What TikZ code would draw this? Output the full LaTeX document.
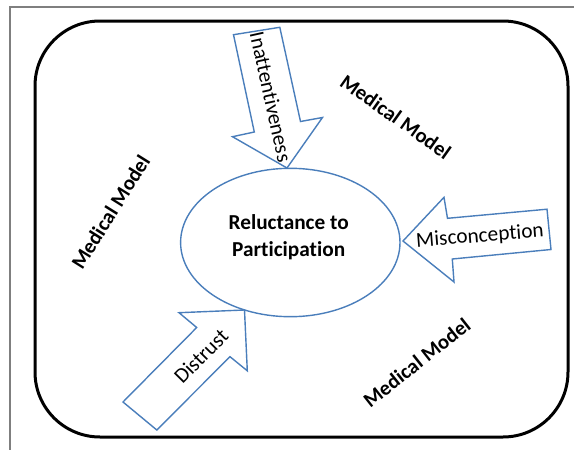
\documentclass[tikz,border=0pt]{standalone}
\usepackage{fontspec}
\setmainfont{Carlito}[Ligatures=NoCommon, RawFeature={-liga}]
\definecolor{arrowblue}{HTML}{4A7EBB}
\definecolor{framegray}{HTML}{7F7F7F}
\tikzset{
  blockarrow/.style={draw=arrowblue, line width=1.4pt, line join=miter, fill=white},
  arrowtext/.style={font=\fontsize{21.3}{25}\selectfont, inner sep=0pt},
  modeltext/.style={font=\fontsize{20.8}{25}\selectfont\bfseries, inner sep=0pt},
  centerellipse/.style={draw=arrowblue, line width=1.4pt, ellipse, minimum width=219.4pt, minimum height=148.4pt, inner sep=0pt},
}
\usetikzlibrary{shapes.geometric}
\begin{document}
\begin{tikzpicture}[x=1pt, y=-1pt]
\useasboundingbox (0,0) rectangle (574,450);
% outer thin frame (top and left)
\draw[framegray, line width=1.5pt] (574,7) -- (10,7) -- (10,450);
% rounded black frame
\draw[black, line width=3pt, rounded corners=65pt] (35,21) rectangle (568,437);

% central ellipse
\node[centerellipse] (core) at (290.3,242.5) {};
\node[font=\fontsize{21.3}{27}\selectfont\bfseries, align=center, inner sep=0pt] (coretext) at (288.7,237.5) {Reluctance to\\Participation};

% Inattentiveness arrow
\draw[blockarrow] (233.5,34.7) -- (279.8,27.3) -- (300.5,121.5) -- (322.5,117.5)
  -- (287,168) -- (232.5,136.7) -- (254.3,132) -- cycle;
\node[arrowtext, rotate=-77.6] (inatt) at (271,97) {Inattentiveness};

% Misconception arrow
\draw[blockarrow] (403,241) -- (444,197.3) -- (447.5,218.3) -- (547,209.2)
  -- (551,249.5) -- (452.3,259) -- (454,282) -- cycle;
\node[arrowtext, rotate=4.5] (miscon) at (480,236.5) {Misconception};

% Distrust arrow
\draw[blockarrow] (244.5,310) -- (179,312.7) -- (196.7,327.5) -- (123,402)
  -- (156.8,430) -- (230,356.7) -- (247.3,370.8) -- cycle;
\node[arrowtext, rotate=45.4] (distrust) at (201,356) {Distrust};

% Medical Model labels
\node[modeltext, rotate=-35.3] (mmtop) at (395.8,116.7) {Medical Model};
\node[modeltext, rotate=58] (mmleft) at (110.5,212) {Medical Model};
\node[modeltext, rotate=38.3] (mmbottom) at (416.7,362.5) {Medical Model};
\end{tikzpicture}
\end{document}
